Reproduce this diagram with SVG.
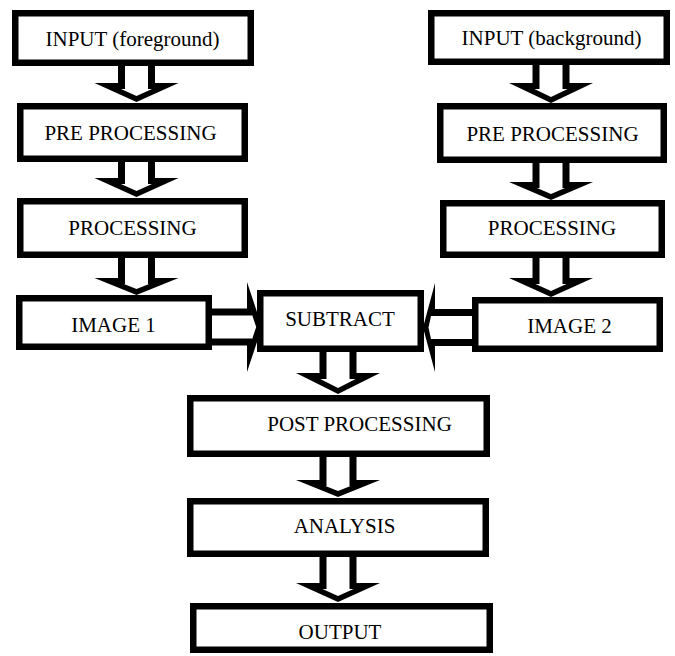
<svg xmlns="http://www.w3.org/2000/svg" width="675" height="656" viewBox="0 0 675 656">
<style>
.box{fill:#fff;stroke:#000;stroke-width:6.5}
.lbl{font-family:"Liberation Serif","Times New Roman",serif;font-size:21px;fill:#000;text-anchor:middle}
.arr{fill:#000;fill-rule:evenodd;stroke:none}
</style>
<rect width="675" height="656" fill="#fff"/>
<g id="input-fg"><rect class="box" x="15.25" y="13.25" width="235.5" height="49.5"/><text class="lbl" x="132.5" y="46">INPUT (foreground)</text></g>
<g id="pre-left"><rect class="box" x="20.25" y="106.25" width="224.5" height="52.5"/><text class="lbl" x="130.5" y="140">PRE PROCESSING</text></g>
<g id="proc-left"><rect class="box" x="20.25" y="201.25" width="224.5" height="53.5"/><text class="lbl" x="132.5" y="235">PROCESSING</text></g>
<g id="image1"><rect class="box" x="19.25" y="298.25" width="189.5" height="48.5"/><text class="lbl" x="113.5" y="332">IMAGE 1</text></g>
<g id="input-bg"><rect class="box" x="431.25" y="13.25" width="235.5" height="48.5"/><text class="lbl" x="551.5" y="45">INPUT (background)</text></g>
<g id="pre-right"><rect class="box" x="440.25" y="106.25" width="223.5" height="53.5"/><text class="lbl" x="552.5" y="141">PRE PROCESSING</text></g>
<g id="proc-right"><rect class="box" x="443.25" y="203.25" width="218.5" height="51.5"/><text class="lbl" x="552" y="235">PROCESSING</text></g>
<g id="image2"><rect class="box" x="475.25" y="300.25" width="184.5" height="48.5"/><text class="lbl" x="569.5" y="333">IMAGE 2</text></g>
<g id="subtract"><rect class="box" x="260.25" y="293.25" width="160.5" height="55.5"/><text class="lbl" x="340" y="326">SUBTRACT</text></g>
<g id="post"><rect class="box" x="190.25" y="398.25" width="296.5" height="55.5"/><text class="lbl" x="359.5" y="431">POST PROCESSING</text></g>
<g id="analysis"><rect class="box" x="190.25" y="501.25" width="295.5" height="52.5"/><text class="lbl" x="344.5" y="533">ANALYSIS</text></g>
<g id="output"><rect class="box" x="193.25" y="606.25" width="296.5" height="43.5"/><text class="lbl" x="340" y="639">OUTPUT</text></g>
<g id="connectors">
<path class="arr" d="M118,64 H155 V83 H178.5 L136.5,102 L94.5,83 H118 Z M125,64 H148 V89 H152 L136.5,96 L121,89 H125 Z"/>
<path class="arr" d="M118,160 H155 V178 H178.5 L136.5,197 L94.5,178 H118 Z M125,160 H148 V184 H152 L136.5,191 L121,184 H125 Z"/>
<path class="arr" d="M118,256 H155 V278 H178.5 L136.5,295 L94.5,278 H118 Z M125,256 H148 V284 H149.1 L136.5,289.1 L123.9,284 H125 Z"/>
<path class="arr" d="M532.5,63 H569.5 V83 H593 L551,103 L509,83 H532.5 Z M539.5,63 H562.5 V89 H567.6 L551,96.9 L534.4,89 H539.5 Z"/>
<path class="arr" d="M532.5,161 H569.5 V182 H593 L551,200 L509,182 H532.5 Z M539.5,161 H562.5 V188 H565 L551,194 L537,188 H539.5 Z"/>
<path class="arr" d="M532.5,256 H569.5 V278 H593 L551,297 L509,278 H532.5 Z M539.5,256 H562.5 V284 H566.5 L551,291 L535.5,284 H539.5 Z"/>
<path class="arr" d="M319.5,350 H356.5 V373 H380 L338,394 L296,373 H319.5 Z M326.5,350 H349.5 V379 H355.7 L338,387.9 L320.3,379 H326.5 Z"/>
<path class="arr" d="M319.5,455 H356.5 V480 H380 L338,497 L296,480 H319.5 Z M326.5,455 H349.5 V486 H350.6 L338,491.1 L325.4,486 H326.5 Z"/>
<path class="arr" d="M319.5,555 H356.5 V583 H380 L338,602 L296,583 H319.5 Z M326.5,555 H349.5 V589 H353.5 L338,596 L322.5,589 H326.5 Z"/>
<path class="arr" d="M210,308.5 H247 V282 L262,327 L247,372 V345.5 H210 Z M210,315.5 H252 V314.4 L256.2,327 L252,339.6 V338.5 H210 Z"/>
<path class="arr" d="M474,309 H435 V283 L423,327.5 L435,372 V346 H474 Z M474,316 H431 L428.5,327.5 L431,339 H474 Z"/>
</g>
</svg>
